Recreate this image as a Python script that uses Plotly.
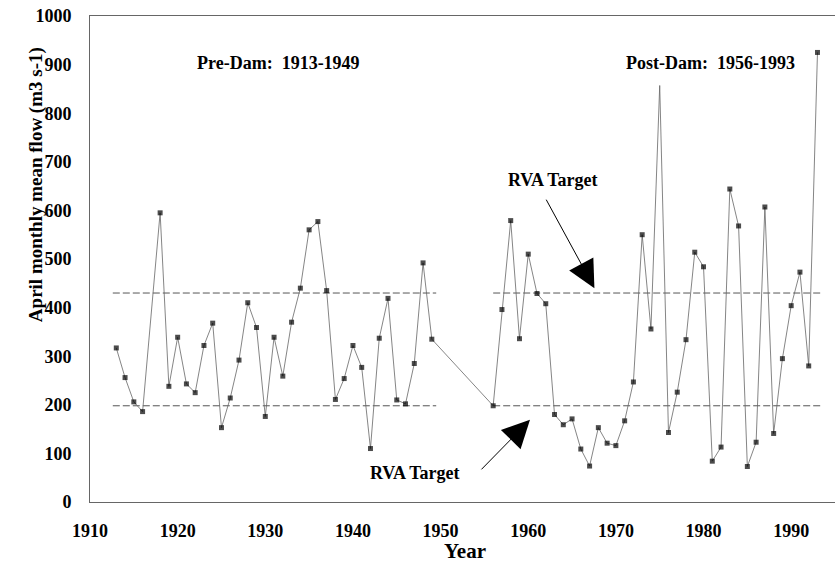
import plotly.graph_objects as go

# ---- data ----
years = [1913, 1914, 1915, 1916, 1918, 1919, 1920, 1921, 1922, 1923, 1924, 1925,
         1926, 1927, 1928, 1929, 1930, 1931, 1932, 1933, 1934, 1935, 1936, 1937,
         1938, 1939, 1940, 1941, 1942, 1943, 1944, 1945, 1946, 1947, 1948, 1949,
         1956, 1957, 1958, 1959, 1960, 1961, 1962, 1963, 1964, 1965, 1966, 1967,
         1968, 1969, 1970, 1971, 1972, 1973, 1974, 1975, 1976, 1977, 1978, 1979,
         1980, 1981, 1982, 1983, 1984, 1985, 1986, 1987, 1988, 1989, 1990, 1991,
         1992, 1993]
flow = [317, 256, 206, 186, 595, 238, 339, 243, 225, 322, 368, 153,
        214, 292, 410, 359, 176, 339, 259, 370, 440, 560, 577, 435,
        211, 254, 322, 277, 110, 337, 419, 210, 202, 285, 492, 335,
        198, 396, 579, 336, 510, 429, 408, 180, 159, 171, 109, 74,
        153, 121, 116, 167, 247, 550, 356, 857, 143, 226, 334, 514,
        484, 84, 113, 644, 568, 73, 123, 607, 141, 295, 404, 473,
        280, 925]
years_without_marker = [1975]

rva_low = 198
rva_high = 430
pre_span = [1912.6, 1949.5]
post_span = [1956.0, 1993.5]

x_ticks = [1910, 1920, 1930, 1940, 1950, 1960, 1970, 1980, 1990]
y_ticks = [0, 100, 200, 300, 400, 500, 600, 700, 800, 900, 1000]

FONT = "Liberation Serif, Times New Roman, serif"

fig = go.Figure()

# RVA target dashed lines
for span in (pre_span, post_span):
    for lvl in (rva_low, rva_high):
        fig.add_trace(go.Scatter(
            x=span, y=[lvl, lvl], mode="lines",
            line=dict(color="#555555", width=1, dash="7px,3px"),
            hoverinfo="skip", showlegend=False))

sizes = [0 if yr in years_without_marker else 5 for yr in years]
fig.add_trace(go.Scatter(
    x=years, y=flow, mode="lines+markers",
    line=dict(color="#666666", width=0.8),
    marker=dict(symbol="square", size=sizes, color="black",
                line=dict(width=0)),
    showlegend=False))

ann_font = dict(family=FONT, size=18, color="black")
annotations = [
    dict(x=1931.56, y=903, text="<b>Pre-Dam:  1913-1949</b>", showarrow=False,
         font=ann_font, xanchor="center", yanchor="middle"),
    dict(x=1980.85, y=903, text="<b>Post-Dam:  1956-1993</b>", showarrow=False,
         font=ann_font, xanchor="center", yanchor="middle"),
    dict(x=1962.8, y=662, text="<b>RVA Target</b>", showarrow=False,
         font=ann_font, xanchor="center", yanchor="middle"),
    dict(x=1947.1, y=60, text="<b>RVA Target</b>", showarrow=False,
         font=ann_font, xanchor="center", yanchor="middle"),
    # arrows
    dict(x=1967.55, y=440, ax=-49, ay=-90, text="", showarrow=True,
         arrowhead=2, arrowsize=5.5, arrowwidth=1, arrowcolor="black"),
    dict(x=1960.2, y=169, ax=-50, ay=51, text="", showarrow=True,
         arrowhead=2, arrowsize=5.5, arrowwidth=1, arrowcolor="black"),
    # y-axis title (placed off-centre as in the original)
    dict(xref="paper", yref="paper", x=-0.0725, y=0.654,
         text="<b>April monthly mean flow (m3 s-1)</b>", textangle=-90,
         showarrow=False, font=dict(family=FONT, size=19, color="black"),
         xanchor="center", yanchor="middle"),
    # x-axis title
    dict(xref="paper", yref="paper", x=0.503, y=-0.101,
         text="<b>Year</b>", showarrow=False,
         font=dict(family=FONT, size=21, color="black"),
         xanchor="center", yanchor="middle"),
]

fig.update_layout(
    width=835, height=563,
    margin=dict(l=90, r=0, t=16, b=61, autoexpand=False),
    paper_bgcolor="white", plot_bgcolor="white",
    font=dict(family=FONT, size=18, color="black"),
    annotations=annotations,
    xaxis=dict(
        range=[1910, 1995], tickvals=x_ticks,
        ticktext=[f"<b>{t}</b>" for t in x_ticks],
        showgrid=False, zeroline=False, showline=True, mirror=True,
        linecolor="#666666", linewidth=1, ticks="", ticklabelstandoff=12,
        automargin=False,
    ),
    yaxis=dict(
        range=[0, 1000], tickvals=y_ticks,
        ticktext=[f"<b>{t}</b>" for t in y_ticks],
        showgrid=False, zeroline=False, showline=True, mirror=False,
        linecolor="#666666", linewidth=1, ticks="", ticklabelstandoff=14,
        automargin=False,
    ),
)

# remove the browser's default 8px body margin so the figure fills the window
fig.write_html("out.html",
               config={"displayModeBar": False},
               post_script="document.body.style.margin='0';")
